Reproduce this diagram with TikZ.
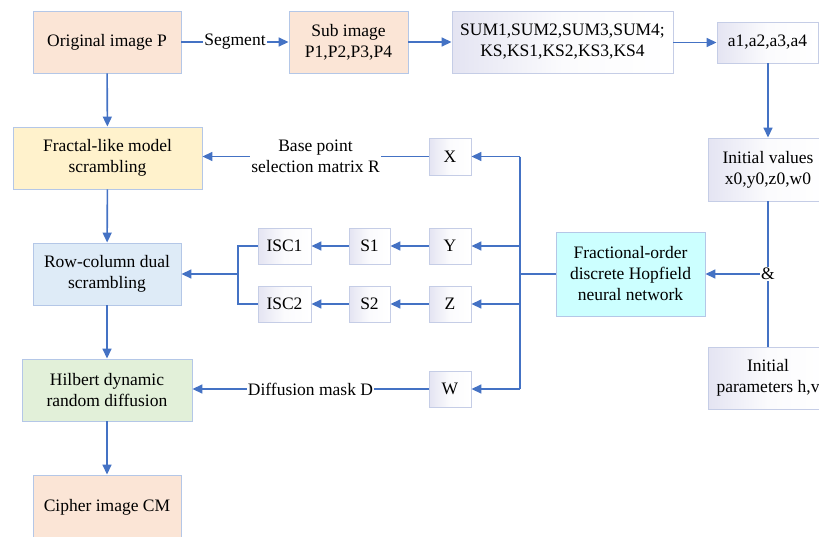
\documentclass[tikz,border=0pt]{standalone}
\usepackage{fontspec}
\setmainfont{Liberation Serif}
\usetikzlibrary{arrows.meta}
\definecolor{arrc}{HTML}{4472C4}
\definecolor{bord}{HTML}{B4C7E7}
\definecolor{peach}{HTML}{FBE5D6}
\definecolor{yell}{HTML}{FFF2CC}
\definecolor{lblue}{HTML}{DEEBF7}
\definecolor{lgreen}{HTML}{E2F0D9}
\definecolor{lcyan}{HTML}{CCFFFF}
\definecolor{lav}{HTML}{E4E4F2}
\definecolor{gbord}{HTML}{C5CDE6}
\begin{document}
\begin{tikzpicture}[x=1pt,y=-1pt,
  txt/.style={font=\fontsize{17.5}{21}\selectfont},
  box/.style={txt,draw=bord,line width=0.9pt,align=center,inner sep=0pt},
  gbox/.style={box,draw=gbord,left color=lav,right color=white,middle color=white!85!lav},
  ln/.style={draw=arrc,line width=1.6pt},
  arr/.style={ln,-{Triangle[length=10pt,width=9pt]}},
  lbl/.style={txt,fill=white,inner sep=1pt,align=center}]
\useasboundingbox (0,0) rectangle (819,536);
\clip (0,0) rectangle (819,536);
% top row
\node[box,fill=peach,minimum width=148pt,minimum height=62pt] (orig) at (107,42) {Original image P};
\node[box,fill=peach,minimum width=119pt,minimum height=62pt] (sub) at (348.5,42) {Sub image\\P1,P2,P3,P4};
\node[gbox,minimum width=221pt,minimum height=62pt] (sum) at (562.5,42) {SUM1,SUM2,SUM3,SUM4;\\KS,KS1,KS2,KS3,KS4};
\node[gbox,minimum width=101pt,minimum height=41pt] (a) at (767.5,42.5) {a1,a2,a3,a4};
% right column
\node[gbox,minimum width=120pt,minimum height=63pt] (init) at (768,169.5) {Initial values\\x0,y0,z0,w0};
\node[txt,inner sep=1pt] (amp) at (768,274) {\&};
\node[gbox,minimum width=120pt,minimum height=62pt] (par) at (768,378) {Initial\\parameters h,v};
\node[box,fill=lcyan,minimum width=149pt,minimum height=84pt] (hop) at (630.5,274) {Fractional-order\\discrete Hopfield\\neural network};
% X Y Z W
\node[gbox,minimum width=42pt,minimum height=37pt] (X) at (450,156.5) {X};
\node[gbox,minimum width=42pt,minimum height=36pt] (Y) at (450,246) {Y};
\node[gbox,minimum width=42pt,minimum height=36pt] (Z) at (450,304) {Z};
\node[gbox,minimum width=42pt,minimum height=36pt] (W) at (450,389) {W};
\node[gbox,minimum width=41pt,minimum height=36pt] (S1) at (369.5,246) {S1};
\node[gbox,minimum width=41pt,minimum height=36pt] (S2) at (369.5,304) {S2};
\node[gbox,minimum width=53pt,minimum height=36pt] (I1) at (284.5,246) {ISC1};
\node[gbox,minimum width=53pt,minimum height=36pt] (I2) at (284.5,304) {ISC2};
% left column
\node[box,fill=yell,minimum width=189pt,minimum height=62pt] (frac) at (107.5,158) {Fractal-like model\\scrambling};
\node[box,fill=lblue,minimum width=148pt,minimum height=62pt] (row) at (107,274) {Row-column dual\\scrambling};
\node[box,fill=lgreen,minimum width=170pt,minimum height=62pt] (hil) at (107,390) {Hilbert dynamic\\random diffusion};
\node[box,fill=peach,minimum width=148pt,minimum height=64pt] (ciph) at (107,507) {Cipher image CM};
\coordinate (bus) at (520,274);
\coordinate (br) at (238,274);
% connectors
\draw[arr] (orig) -- node[lbl]{Segment} (sub);
\draw[arr] (sub) -- (sum);
\draw[arr] (sum.east |- a) -- (a);
\draw[arr] (a.south -| init) -- (init);
\draw[ln] (init) -- (amp);
\draw[ln] (amp) -- (par);
\draw[arr] (amp) -- (hop);
\draw[ln] (hop) -- (bus);
\draw[ln] (bus |- X) -- (bus |- W);
\draw[arr] (bus |- X) -- (X);
\draw[arr] (bus |- Y) -- (Y);
\draw[arr] (bus |- Z) -- (Z);
\draw[arr] (bus |- W) -- (W);
\draw[arr] (X) -- node[lbl]{Base point\\selection matrix R} (frac.east |- X);
\draw[arr] (Y) -- (S1);
\draw[arr] (Z) -- (S2);
\draw[arr] (S1) -- (I1);
\draw[arr] (S2) -- (I2);
\draw[ln] (I1.west) -- (br |- I1) -- (br |- I2) -- (I2.west);
\draw[arr] (br) -- (row);
\draw[arr] (W) -- node[lbl]{Diffusion mask D} (hil.east |- W);
\draw[arr] (orig) -- (frac);
\draw[arr] (frac) -- (row);
\draw[arr] (row) -- (hil);
\draw[arr] (hil) -- (ciph);
\end{tikzpicture}
\end{document}
